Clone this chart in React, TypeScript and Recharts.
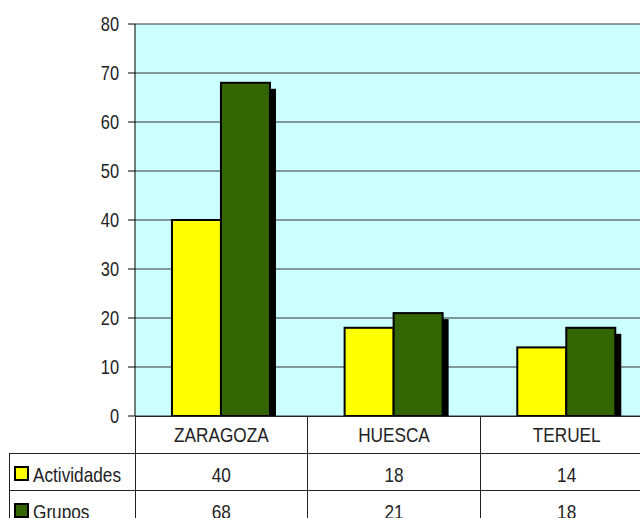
import React from "react";
import { BarChart, Bar, XAxis, YAxis, CartesianGrid } from "recharts";

const categories = ["ZARAGOZA", "HUESCA", "TERUEL"];
const actividades = [40, 18, 14];
const grupos = [68, 21, 18];
const yTicks = [0, 10, 20, 30, 40, 50, 60, 70, 80];

const data = categories.map((name, i) => ({
  name,
  Actividades: actividades[i],
  Grupos: grupos[i],
}));

// no Arial Narrow here, so squeeze Liberation Sans horizontally
const FONT = "'Liberation Sans', Arial, sans-serif";
const NARROW = 0.82;

const PLOT_LEFT = 135;
const PLOT_TOP = 24;
const PLOT_BOTTOM = 416;
const PLOT_W = 518;
const COL_W = PLOT_W / categories.length;
const ROW_H = 37;
const TABLE_LEFT = 9;

function NarrowText({ x, y, size, anchor, children }: any) {
  return (
    <text
      transform={`translate(${x},${y}) scale(${NARROW},1)`}
      fontFamily={FONT}
      fontSize={size}
      fill="#222"
      textAnchor={anchor || "start"}
    >
      {children}
    </text>
  );
}

function YTick(props: any) {
  const { x, y, payload } = props;
  return (
    <NarrowText x={x} y={y + 7} size={20} anchor="end">
      {payload.value}
    </NarrowText>
  );
}

function ShadowBar(props: any) {
  const { x, y, width, height, fill } = props;
  if (!height || height <= 0) return null;
  return (
    <g>
      <rect x={x + 6} y={y + 6} width={width} height={height - 6} fill="#000" />
      <rect x={x} y={y} width={width} height={height} fill={fill} stroke="#000" strokeWidth={2} />
    </g>
  );
}

const rows = [
  { label: "Actividades", color: "#FFFF00", values: actividades },
  { label: "Grupos", color: "#336600", values: grupos },
];

function DataTable() {
  const right = PLOT_LEFT + PLOT_W;
  const bottom = PLOT_BOTTOM + ROW_H * 3;
  return (
    <svg
      width={640}
      height={518}
      style={{ position: "absolute", left: 0, top: 0, pointerEvents: "none" }}
    >
      <g stroke="#222" strokeWidth={1} shapeRendering="crispEdges">
        <line x1={PLOT_LEFT} y1={PLOT_BOTTOM} x2={right} y2={PLOT_BOTTOM} />
        {[1, 2].map((r) => (
          <line
            key={r}
            x1={TABLE_LEFT}
            y1={PLOT_BOTTOM + ROW_H * r}
            x2={right}
            y2={PLOT_BOTTOM + ROW_H * r}
          />
        ))}
        <line x1={TABLE_LEFT} y1={PLOT_BOTTOM + ROW_H} x2={TABLE_LEFT} y2={bottom} />
        {categories.map((c, i) => (
          <line
            key={c}
            x1={PLOT_LEFT + COL_W * i}
            y1={PLOT_BOTTOM}
            x2={PLOT_LEFT + COL_W * i}
            y2={bottom}
          />
        ))}
      </g>
      {categories.map((c, i) => (
        <NarrowText key={c} x={PLOT_LEFT + COL_W * (i + 0.5)} y={PLOT_BOTTOM + 26} size={21} anchor="middle">
          {c}
        </NarrowText>
      ))}
      {rows.map((row, r) =>
        row.values.map((v, i) => (
          <NarrowText
            key={row.label + i}
            x={PLOT_LEFT + COL_W * (i + 0.5)}
            y={PLOT_BOTTOM + ROW_H * (r + 1) + 29}
            size={21}
            anchor="middle"
          >
            {v}
          </NarrowText>
        ))
      )}
      {rows.map((row, r) => {
        const top = PLOT_BOTTOM + ROW_H * (r + 1);
        return (
          <g key={row.label}>
            <rect x={15} y={top + 14} width={13} height={13} fill={row.color} stroke="#000" strokeWidth={2} />
            <NarrowText x={33} y={top + 29} size={21}>
              {row.label}
            </NarrowText>
          </g>
        );
      })}
    </svg>
  );
}

export default function App() {
  return (
    <div
      style={{
        position: "absolute",
        left: 0,
        top: 0,
        width: 640,
        height: 518,
        overflow: "hidden",
        background: "#fff",
      }}
    >
      <BarChart
        width={PLOT_LEFT + PLOT_W}
        height={518}
        data={data}
        margin={{ top: PLOT_TOP, right: 0, left: 0, bottom: 518 - PLOT_BOTTOM }}
        barCategoryGap="21.4%"
        barGap={0}
      >
        <CartesianGrid vertical={false} fill="#CCFFFF" stroke="#333" />
        <XAxis dataKey="name" hide />
        <YAxis
          width={PLOT_LEFT}
          domain={[0, 80]}
          ticks={yTicks}
          interval={0}
          tickSize={7}
          tickMargin={9}
          axisLine={{ stroke: "#000" }}
          tickLine={{ stroke: "#000" }}
          tick={YTick}
        />
        <Bar dataKey="Actividades" fill="#FFFF00" shape={ShadowBar} isAnimationActive={false} />
        <Bar dataKey="Grupos" fill="#336600" shape={ShadowBar} isAnimationActive={false} />
      </BarChart>
      <DataTable />
    </div>
  );
}
